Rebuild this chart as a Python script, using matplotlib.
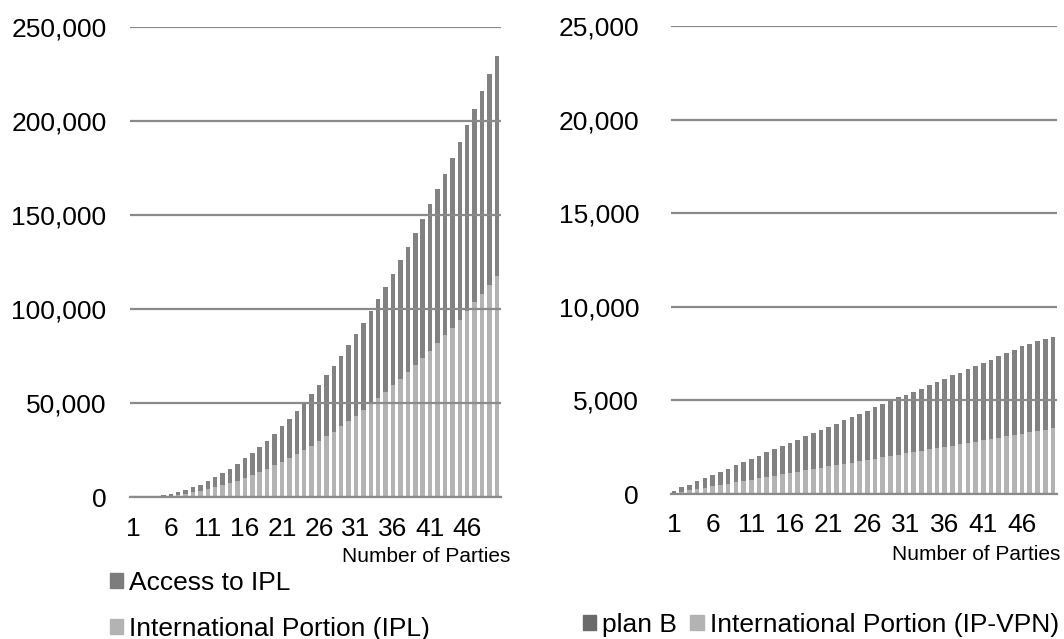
import matplotlib
matplotlib.use("Agg")
import matplotlib.pyplot as plt
from matplotlib.patches import Patch
from matplotlib.ticker import FuncFormatter

plt.rcParams['font.family'] = ['Liberation Sans', 'DejaVu Sans']

parties = list(range(1, 51))
tick_positions = [1, 6, 11, 16, 21, 26, 31, 36, 41, 46]

# left chart: IPL
ipl_international = [0, 50, 150, 300, 500, 850, 1300, 1950, 2600, 3350,
                     4200, 5300, 6400, 7600, 8850, 10300, 11800, 13400, 15050, 16900,
                     18850, 20800, 22950, 25100, 27500, 29850, 32350, 34850, 37650, 40450,
                     43400, 46300, 49450, 52600, 55950, 59400, 62900, 66450, 70150, 73900,
                     77900, 81800, 85950, 90150, 94350, 98900, 103700, 108200, 113000, 117500]
ipl_access = [0, 50, 150, 300, 500, 850, 1300, 1950, 2600, 3350,
              4200, 5300, 6400, 7600, 8850, 10300, 11800, 13400, 15050, 16900,
              18850, 20800, 22950, 25100, 27500, 29850, 32350, 34850, 37650, 40450,
              43400, 46300, 49450, 52600, 55950, 59400, 62900, 66450, 70150, 73900,
              77900, 81800, 85950, 90150, 94350, 98900, 102800, 107600, 111900, 116900]

# right chart: IP-VPN
vpn_international = [60, 130, 200, 270, 340, 420, 490, 560, 630, 700,
                     770, 840, 910, 980, 1050, 1120, 1190, 1260, 1330, 1400,
                     1470, 1540, 1610, 1680, 1750, 1820, 1890, 1960, 2030, 2100,
                     2170, 2240, 2310, 2380, 2450, 2520, 2590, 2660, 2730, 2800,
                     2870, 2940, 3010, 3080, 3150, 3220, 3290, 3360, 3430, 3500]
vpn_plan_b = [90, 220, 300, 405, 510, 600, 710, 790, 915, 1000,
              1120, 1205, 1310, 1415, 1520, 1620, 1705, 1830, 1915, 2040,
              2120, 2225, 2330, 2430, 2515, 2620, 2745, 2830, 2955, 3060,
              3120, 3225, 3305, 3430, 3535, 3620, 3745, 3820, 3950, 4055,
              4135, 4240, 4350, 4450, 4550, 4660, 4740, 4810, 4850, 4900]

dark = '#828282'
light = '#b3b3b3'
grid_col = '#8a8a8a'
fs = 19

fig = plt.figure(figsize=(10.64, 6.39), dpi=100)
ax1 = fig.add_axes([0.1222, 0.2218, 0.3482, 0.7365])
ax2 = fig.add_axes([0.6306, 0.2269, 0.3628, 0.7324])

fmt = FuncFormatter(lambda v, p: '{:,.0f}'.format(v))


def style(ax, ymax, step, xlim, pad):
    ax.set_ylim(0, ymax)
    ax.set_xlim(*xlim)
    ax.set_yticks(range(0, ymax + 1, step))
    ax.yaxis.set_major_formatter(fmt)
    ax.set_xticks(tick_positions)
    ax.set_xticklabels([str(t) for t in tick_positions])
    ax.tick_params(axis='both', length=0, labelsize=fs, colors='black')
    ax.tick_params(axis='y', pad=pad)
    ax.tick_params(axis='x', pad=14)
    for s in ['left', 'top', 'right']:
        ax.spines[s].set_visible(False)
    ax.spines['bottom'].set_color(grid_col)
    ax.spines['bottom'].set_linewidth(1.6)
    # gridlines sit on top of the bars, like the original
    ax.set_axisbelow(False)
    ax.yaxis.grid(True, color=grid_col, linewidth=1.6)


b1 = ax1.bar(parties, ipl_international, width=0.6, color=light)
b2 = ax1.bar(parties, ipl_access, width=0.6, bottom=ipl_international, color=dark)
style(ax1, 250000, 50000, (0.5, 50.5), 17)
fig.text(510 / 1064, 1 - 557 / 639, 'Number of Parties', ha='right', va='center', fontsize=15)
fig.legend([Patch(color='#7c7c7c'), Patch(color=light)],
           ['Access to IPL', 'International Portion (IPL)'], loc='center left',
           bbox_to_anchor=(110 / 1064, 1 - 606 / 639), frameon=False, fontsize=fs,
           handlelength=0.5, handleheight=0.5, handletextpad=0.23, labelspacing=0.82,
           borderaxespad=0, borderpad=0)

c1 = ax2.bar(parties, vpn_international, width=0.6, color=light)
c2 = ax2.bar(parties, vpn_plan_b, width=0.6, bottom=vpn_international, color=dark)
style(ax2, 25000, 5000, (0.61, 50.52), 23)
fig.text(1060 / 1064, 1 - 555 / 639, 'Number of Parties', ha='right', va='center', fontsize=15)
fig.legend([Patch(color='#6a6a6a'), Patch(color=light)],
           ['plan B', 'International Portion (IP-VPN)'], loc='center left',
           bbox_to_anchor=(583 / 1064, 1 - 625 / 639), frameon=False, fontsize=fs,
           handlelength=0.5, handleheight=0.5, handletextpad=0.23, columnspacing=0.5,
           ncol=2, borderaxespad=0, borderpad=0)

fig.savefig('out.png', dpi=100)
